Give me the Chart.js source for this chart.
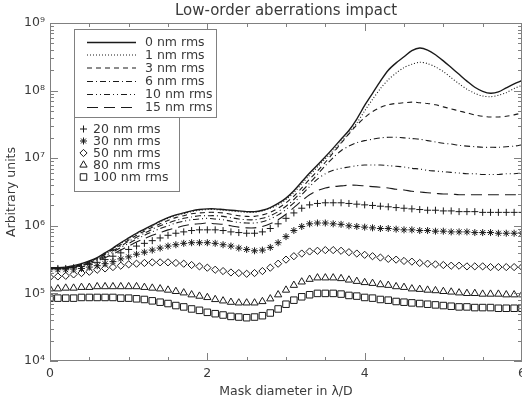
<!DOCTYPE html>
<html><head><meta charset="utf-8">
<script src="https://cdn.jsdelivr.net/npm/chart.js@4/dist/chart.umd.min.js"></script>
<style>html,body{margin:0;padding:0;background:#fff}</style>
</head><body>
<canvas id="c" width="522" height="399"></canvas>
<script>
// Mask diameter in lambda/D
const maskDiameter = [0.0,0.1,0.2,0.3,0.4,0.5,0.6,0.7,0.8,0.9,1.0,1.1,1.2,1.3,1.4,1.5,1.6,1.7,1.8,1.9,2.0,2.1,2.2,2.3,2.4,2.5,2.6,2.7,2.8,2.9,3.0,3.1,3.2,3.3,3.4,3.5,3.6,3.7,3.8,3.9,4.0,4.1,4.2,4.3,4.4,4.5,4.6,4.7,4.8,4.9,5.0,5.1,5.2,5.3,5.4,5.5,5.6,5.7,5.8,5.9,6.0];

const rms0 = [2.40e5,2.40e5,2.45e5,2.57e5,2.75e5,3.02e5,3.39e5,3.98e5,4.68e5,5.62e5,6.61e5,7.76e5,8.91e5,1.02e6,1.17e6,1.32e6,1.45e6,1.55e6,1.66e6,1.74e6,1.78e6,1.78e6,1.74e6,1.70e6,1.66e6,1.62e6,1.62e6,1.70e6,1.86e6,2.14e6,2.57e6,3.31e6,4.47e6,6.03e6,7.94e6,1.05e7,1.41e7,1.91e7,2.57e7,3.80e7,6.03e7,9.12e7,1.38e8,2.00e8,2.57e8,3.16e8,3.89e8,4.27e8,3.98e8,3.39e8,2.75e8,2.19e8,1.74e8,1.38e8,1.12e8,9.77e7,9.12e7,9.55e7,1.10e8,1.26e8,1.41e8];
const rms1 = [2.34e5,2.34e5,2.40e5,2.51e5,2.69e5,2.95e5,3.31e5,3.89e5,4.57e5,5.50e5,6.46e5,7.59e5,8.71e5,1.00e6,1.15e6,1.29e6,1.41e6,1.51e6,1.62e6,1.70e6,1.74e6,1.74e6,1.70e6,1.66e6,1.62e6,1.58e6,1.58e6,1.66e6,1.82e6,2.04e6,2.45e6,3.09e6,4.17e6,5.62e6,7.41e6,9.77e6,1.29e7,1.74e7,2.34e7,3.31e7,5.01e7,7.41e7,1.07e8,1.45e8,1.82e8,2.19e8,2.45e8,2.63e8,2.51e8,2.24e8,1.91e8,1.55e8,1.26e8,1.05e8,9.12e7,8.32e7,8.13e7,8.51e7,9.33e7,1.07e8,1.20e8];
const rms3 = [2.34e5,2.34e5,2.40e5,2.51e5,2.69e5,2.95e5,3.31e5,3.80e5,4.47e5,5.25e5,6.17e5,7.24e5,8.32e5,9.55e5,1.07e6,1.20e6,1.32e6,1.41e6,1.51e6,1.55e6,1.58e6,1.58e6,1.55e6,1.48e6,1.41e6,1.38e6,1.38e6,1.45e6,1.58e6,1.82e6,2.19e6,2.75e6,3.63e6,4.90e6,6.46e6,8.71e6,1.20e7,1.66e7,2.29e7,3.09e7,3.98e7,4.90e7,5.62e7,6.17e7,6.46e7,6.61e7,6.76e7,6.61e7,6.46e7,6.17e7,5.75e7,5.37e7,5.01e7,4.68e7,4.37e7,4.17e7,4.07e7,4.07e7,4.17e7,4.37e7,4.68e7];
const rms6 = [2.34e5,2.34e5,2.40e5,2.51e5,2.63e5,2.88e5,3.24e5,3.72e5,4.27e5,5.01e5,5.89e5,6.76e5,7.76e5,8.91e5,1.00e6,1.10e6,1.20e6,1.29e6,1.35e6,1.41e6,1.41e6,1.41e6,1.38e6,1.32e6,1.26e6,1.23e6,1.23e6,1.29e6,1.41e6,1.62e6,1.95e6,2.45e6,3.24e6,4.27e6,5.75e6,7.76e6,1.02e7,1.29e7,1.51e7,1.70e7,1.82e7,1.91e7,2.00e7,2.04e7,2.04e7,2.00e7,1.95e7,1.91e7,1.82e7,1.74e7,1.66e7,1.62e7,1.55e7,1.51e7,1.48e7,1.45e7,1.45e7,1.45e7,1.48e7,1.51e7,1.58e7];
const rms10 = [2.34e5,2.34e5,2.40e5,2.45e5,2.63e5,2.82e5,3.16e5,3.55e5,4.07e5,4.79e5,5.50e5,6.31e5,7.24e5,8.13e5,9.12e5,1.00e6,1.10e6,1.17e6,1.23e6,1.26e6,1.29e6,1.26e6,1.23e6,1.17e6,1.12e6,1.10e6,1.10e6,1.15e6,1.26e6,1.45e6,1.74e6,2.19e6,2.88e6,3.80e6,4.90e6,5.89e6,6.61e6,7.08e6,7.41e6,7.76e6,7.94e6,7.94e6,7.94e6,7.76e6,7.59e6,7.41e6,7.08e6,6.92e6,6.61e6,6.46e6,6.31e6,6.17e6,6.03e6,5.89e6,5.89e6,5.75e6,5.75e6,5.75e6,5.89e6,5.89e6,6.03e6];
const rms15 = [2.34e5,2.34e5,2.34e5,2.45e5,2.57e5,2.75e5,3.02e5,3.39e5,3.80e5,4.37e5,5.01e5,5.75e5,6.46e5,7.24e5,7.94e5,8.71e5,9.33e5,1.00e6,1.05e6,1.07e6,1.10e6,1.07e6,1.05e6,1.00e6,9.55e5,9.33e5,9.33e5,9.77e5,1.07e6,1.23e6,1.48e6,1.86e6,2.34e6,2.88e6,3.31e6,3.63e6,3.80e6,3.89e6,3.98e6,3.98e6,3.89e6,3.80e6,3.72e6,3.63e6,3.47e6,3.39e6,3.24e6,3.16e6,3.09e6,3.02e6,2.95e6,2.95e6,2.88e6,2.88e6,2.88e6,2.88e6,2.88e6,2.88e6,2.88e6,2.88e6,2.88e6];
const rms20 = [2.34e5,2.34e5,2.34e5,2.40e5,2.51e5,2.69e5,2.88e5,3.16e5,3.55e5,3.98e5,4.47e5,5.01e5,5.50e5,6.03e5,6.61e5,7.24e5,7.76e5,8.13e5,8.51e5,8.71e5,8.71e5,8.71e5,8.51e5,8.13e5,7.94e5,7.76e5,7.76e5,8.13e5,9.12e5,1.07e6,1.29e6,1.55e6,1.82e6,2.04e6,2.14e6,2.19e6,2.19e6,2.19e6,2.14e6,2.09e6,2.04e6,2.00e6,1.95e6,1.91e6,1.86e6,1.82e6,1.78e6,1.74e6,1.70e6,1.70e6,1.66e6,1.66e6,1.62e6,1.62e6,1.62e6,1.58e6,1.58e6,1.58e6,1.58e6,1.58e6,1.58e6];
const rms30 = [2.24e5,2.24e5,2.24e5,2.29e5,2.34e5,2.45e5,2.57e5,2.75e5,2.95e5,3.24e5,3.47e5,3.80e5,4.07e5,4.37e5,4.68e5,5.01e5,5.25e5,5.50e5,5.62e5,5.62e5,5.62e5,5.50e5,5.25e5,5.01e5,4.68e5,4.47e5,4.27e5,4.37e5,4.79e5,5.62e5,6.92e5,8.51e5,9.77e5,1.07e6,1.10e6,1.10e6,1.07e6,1.05e6,1.00e6,9.77e5,9.55e5,9.33e5,9.12e5,9.12e5,8.91e5,8.71e5,8.71e5,8.51e5,8.51e5,8.32e5,8.32e5,8.13e5,8.13e5,8.13e5,7.94e5,7.94e5,7.94e5,7.76e5,7.76e5,7.76e5,7.76e5];
const rms50 = [1.74e5,1.78e5,1.82e5,1.91e5,2.00e5,2.09e5,2.24e5,2.34e5,2.45e5,2.57e5,2.69e5,2.75e5,2.82e5,2.88e5,2.88e5,2.88e5,2.82e5,2.75e5,2.63e5,2.51e5,2.40e5,2.24e5,2.14e5,2.04e5,2.00e5,1.95e5,2.00e5,2.14e5,2.40e5,2.75e5,3.16e5,3.55e5,3.89e5,4.17e5,4.27e5,4.37e5,4.37e5,4.27e5,4.07e5,3.89e5,3.72e5,3.55e5,3.39e5,3.24e5,3.16e5,3.02e5,2.95e5,2.82e5,2.75e5,2.69e5,2.63e5,2.57e5,2.57e5,2.51e5,2.51e5,2.51e5,2.45e5,2.45e5,2.45e5,2.45e5,2.45e5];
const rms80 = [1.17e5,1.17e5,1.20e5,1.20e5,1.23e5,1.23e5,1.26e5,1.26e5,1.26e5,1.26e5,1.26e5,1.26e5,1.23e5,1.20e5,1.17e5,1.12e5,1.07e5,1.02e5,9.55e4,9.12e4,8.71e4,8.13e4,7.76e4,7.41e4,7.24e4,7.24e4,7.24e4,7.59e4,8.32e4,9.55e4,1.12e5,1.32e5,1.48e5,1.62e5,1.70e5,1.70e5,1.70e5,1.66e5,1.58e5,1.51e5,1.45e5,1.41e5,1.35e5,1.32e5,1.26e5,1.23e5,1.17e5,1.15e5,1.12e5,1.10e5,1.07e5,1.05e5,1.02e5,1.00e5,1.00e5,9.77e4,9.77e4,9.77e4,9.55e4,9.55e4,9.55e4];
const rms100 = [8.51e4,8.51e4,8.51e4,8.51e4,8.71e4,8.71e4,8.71e4,8.71e4,8.71e4,8.51e4,8.51e4,8.32e4,8.13e4,7.76e4,7.41e4,7.08e4,6.61e4,6.31e4,5.89e4,5.62e4,5.25e4,5.01e4,4.79e4,4.57e4,4.47e4,4.37e4,4.47e4,4.68e4,5.13e4,5.89e4,6.92e4,7.94e4,8.91e4,9.55e4,1.00e5,1.00e5,1.00e5,9.77e4,9.33e4,9.12e4,8.71e4,8.51e4,8.13e4,7.94e4,7.59e4,7.41e4,7.24e4,7.08e4,6.92e4,6.76e4,6.61e4,6.46e4,6.31e4,6.31e4,6.17e4,6.17e4,6.17e4,6.03e4,6.03e4,6.03e4,6.03e4];

const seriesNames = ['0 nm rms','1 nm rms','3 nm rms','6 nm rms','10 nm rms','15 nm rms','20 nm rms','30 nm rms','50 nm rms','80 nm rms','100 nm rms'];
const seriesValues = [rms0,rms1,rms3,rms6,rms10,rms15,rms20,rms30,rms50,rms80,rms100];
const xTickLabels = [0,2,4,6];
const yTickExponents = [4,5,6,7,8,9];

const INK = '#1a1a1a';
const lineStyles = [
  {dash:[], w:1.4},
  {dash:[1,2], w:1.1},
  {dash:[5,4], w:1.1},
  {dash:[6,3,1,3], w:1.1},
  {dash:[6,3,1,3,1,3], w:1.1},
  {dash:[11,6], w:1.1}
];
const markerStyles = ['cross','star','rectRot','triangle','rect'];
const markerRadius = [3.5,3.5,3.6,4.2,4.6];

const datasets = seriesValues.map((vals, i) => {
  const pts = vals.map((v, k) => ({x: maskDiameter[k], y: v}));
  if (i < 6) {
    return {label: seriesNames[i], data: pts, borderColor: INK, borderWidth: lineStyles[i].w,
      borderDash: lineStyles[i].dash, pointRadius: 0, tension: 0.3, fill: false};
  }
  const m = i - 6;
  return {label: seriesNames[i], data: pts, showLine: false, borderColor: INK,
    pointStyle: markerStyles[m], pointRadius: markerRadius[m], pointBorderWidth: 1,
    pointBorderColor: INK, pointBackgroundColor: 'rgba(0,0,0,0)', backgroundColor:'rgba(0,0,0,0)'};
});

const SUP = {'0':'⁰','1':'¹','2':'²','3':'³','4':'⁴','5':'⁵','6':'⁶','7':'⁷','8':'⁸','9':'⁹'};
const FONT = 'DejaVu Sans';
const TXT = '#3a3a3a';
const AX = '#808080';

function drawMarker(ctx, style, x, y, r) {
  ctx.beginPath();
  if (style === 'cross') {
    ctx.moveTo(x - r, y); ctx.lineTo(x + r, y); ctx.moveTo(x, y - r); ctx.lineTo(x, y + r);
  } else if (style === 'star') {
    ctx.moveTo(x - r, y); ctx.lineTo(x + r, y); ctx.moveTo(x, y - r); ctx.lineTo(x, y + r);
    const d = r * Math.SQRT1_2;
    ctx.moveTo(x - d, y - d); ctx.lineTo(x + d, y + d); ctx.moveTo(x - d, y + d); ctx.lineTo(x + d, y - d);
  } else if (style === 'rectRot') {
    ctx.moveTo(x, y - r); ctx.lineTo(x + r, y); ctx.lineTo(x, y + r); ctx.lineTo(x - r, y); ctx.closePath();
  } else if (style === 'triangle') {
    const s = r * 3 / Math.sqrt(3), h = s * Math.sqrt(3) / 2;
    ctx.moveTo(x - s / 2, y + h / 3); ctx.lineTo(x + s / 2, y + h / 3); ctx.lineTo(x, y - 2 * h / 3); ctx.closePath();
  } else if (style === 'rect') {
    const s = r * Math.SQRT1_2;
    ctx.rect(x - s, y - s, 2 * s, 2 * s);
  }
  ctx.stroke();
}

const framePlugin = {
  id: 'frame',
  afterDatasetsDraw(chart) {
    const {ctx, chartArea: a, scales: {x, y}} = chart;
    ctx.save();
    ctx.strokeStyle = AX; ctx.lineWidth = 1;
    ctx.strokeRect(Math.round(a.left) + 0.5, Math.round(a.top) + 0.5, Math.round(a.right - a.left) - 1, Math.round(a.bottom - a.top) - 1);
    ctx.beginPath();
    for (let k = 0; k <= 12; k++) {
      const v = k * 0.5;
      const px = Math.round(x.getPixelForValue(v)) + 0.5;
      const len = (k % 4 === 0) ? 8 : 4;
      ctx.moveTo(px, a.bottom); ctx.lineTo(px, a.bottom - len);
      ctx.moveTo(px, a.top); ctx.lineTo(px, a.top + len);
    }
    for (let e = 4; e <= 9; e++) {
      for (let m = 1; m <= 9; m++) {
        if (e === 9 && m > 1) break;
        const py = Math.round(y.getPixelForValue(m * Math.pow(10, e))) + 0.5;
        const len = m === 1 ? 8 : 4;
        ctx.moveTo(a.left, py); ctx.lineTo(a.left + len, py);
        ctx.moveTo(a.right, py); ctx.lineTo(a.right - len, py);
      }
    }
    ctx.stroke();
    ctx.fillStyle = TXT;
    ctx.font = '12.5px "' + FONT + '"';
    ctx.textAlign = 'center';
    ctx.textBaseline = 'middle';
    xTickLabels.forEach(v => ctx.fillText(String(v), x.getPixelForValue(v), a.bottom + 13));
    ctx.restore();
  },
  afterDraw(chart) {
    const ctx = chart.ctx;
    ctx.save();
    ctx.fillStyle = '#fff';
    ctx.fillRect(74, 30, 143, 88);
    ctx.fillRect(74, 117, 106, 75);
    ctx.strokeStyle = AX; ctx.lineWidth = 1;
    ctx.strokeRect(74.5, 29.5, 142, 88);
    ctx.strokeRect(74.5, 117.5, 105, 74);
    ctx.font = '12.5px "' + FONT + '"';
    ctx.textBaseline = 'middle';
    ctx.textAlign = 'left';
    const rowsA = [42, 54.5, 67.5, 81, 94, 107];
    for (let i = 0; i < 6; i++) {
      ctx.strokeStyle = INK; ctx.lineWidth = lineStyles[i].w;
      ctx.setLineDash(lineStyles[i].dash);
      ctx.beginPath(); ctx.moveTo(87, rowsA[i] + 0.5); ctx.lineTo(136, rowsA[i] + 0.5); ctx.stroke();
      ctx.setLineDash([]);
      ctx.fillStyle = TXT;
      ctx.fillText(seriesNames[i], 145, rowsA[i] + 1);
    }
    const rowsB = [129, 141, 153, 165, 177];
    for (let j = 0; j < 5; j++) {
      ctx.strokeStyle = INK; ctx.lineWidth = 1;
      drawMarker(ctx, markerStyles[j], 83.5, rowsB[j], markerRadius[j]);
      ctx.fillStyle = TXT;
      ctx.fillText(seriesNames[6 + j], 93, rowsB[j] + 1);
    }
    ctx.restore();
  }
};

new Chart(document.getElementById('c'), {
  type: 'line',
  data: {datasets},
  plugins: [framePlugin],
  options: {
    responsive: false,
    animation: false,
    events: [],
    layout: {autoPadding: false, padding: {left: 0, right: -2, top: 0, bottom: 0}},
    plugins: {
      legend: {display: false},
      tooltip: {enabled: false},
      title: {display: true, text: 'Low-order aberrations impact', fullSize: false,
        font: {family: FONT, size: 15, weight: 'normal'}, color: TXT, padding: {top: 2, bottom: 3}}
    },
    scales: {
      x: {
        type: 'linear', min: 0, max: 6,
        grid: {display: false, drawTicks: false},
        border: {display: false},
        ticks: {display: false},
        title: {display: true, text: 'Mask diameter in λ/D', color: TXT, font: {family: FONT, size: 12.5}, padding: {top: 0, bottom: 0}},
        afterFit: s => { s.height = 38; s.paddingLeft = 0; s.paddingRight = 0; }
      },
      y: {
        type: 'logarithmic', min: 1e4, max: 1e9,
        grid: {display: false, drawTicks: false},
        border: {display: false},
        afterBuildTicks: s => { s.ticks = yTickExponents.map(e => ({value: Math.pow(10, e)})); },
        ticks: {padding: 5, color: TXT, font: {family: FONT, size: 12.5}, autoSkip: false,
          callback: v => { const e = Math.round(Math.log10(v)); return '10' + String(e).split('').map(c => SUP[c]).join(''); }},
        title: {display: true, text: 'Arbitrary units', color: TXT, font: {family: FONT, size: 12.5}, padding: {top: 4, bottom: 0}},
        afterFit: s => { s.width = 50; s.paddingTop = 0; s.paddingBottom = 0; }
      }
    }
  }
});
</script>
</body></html>
